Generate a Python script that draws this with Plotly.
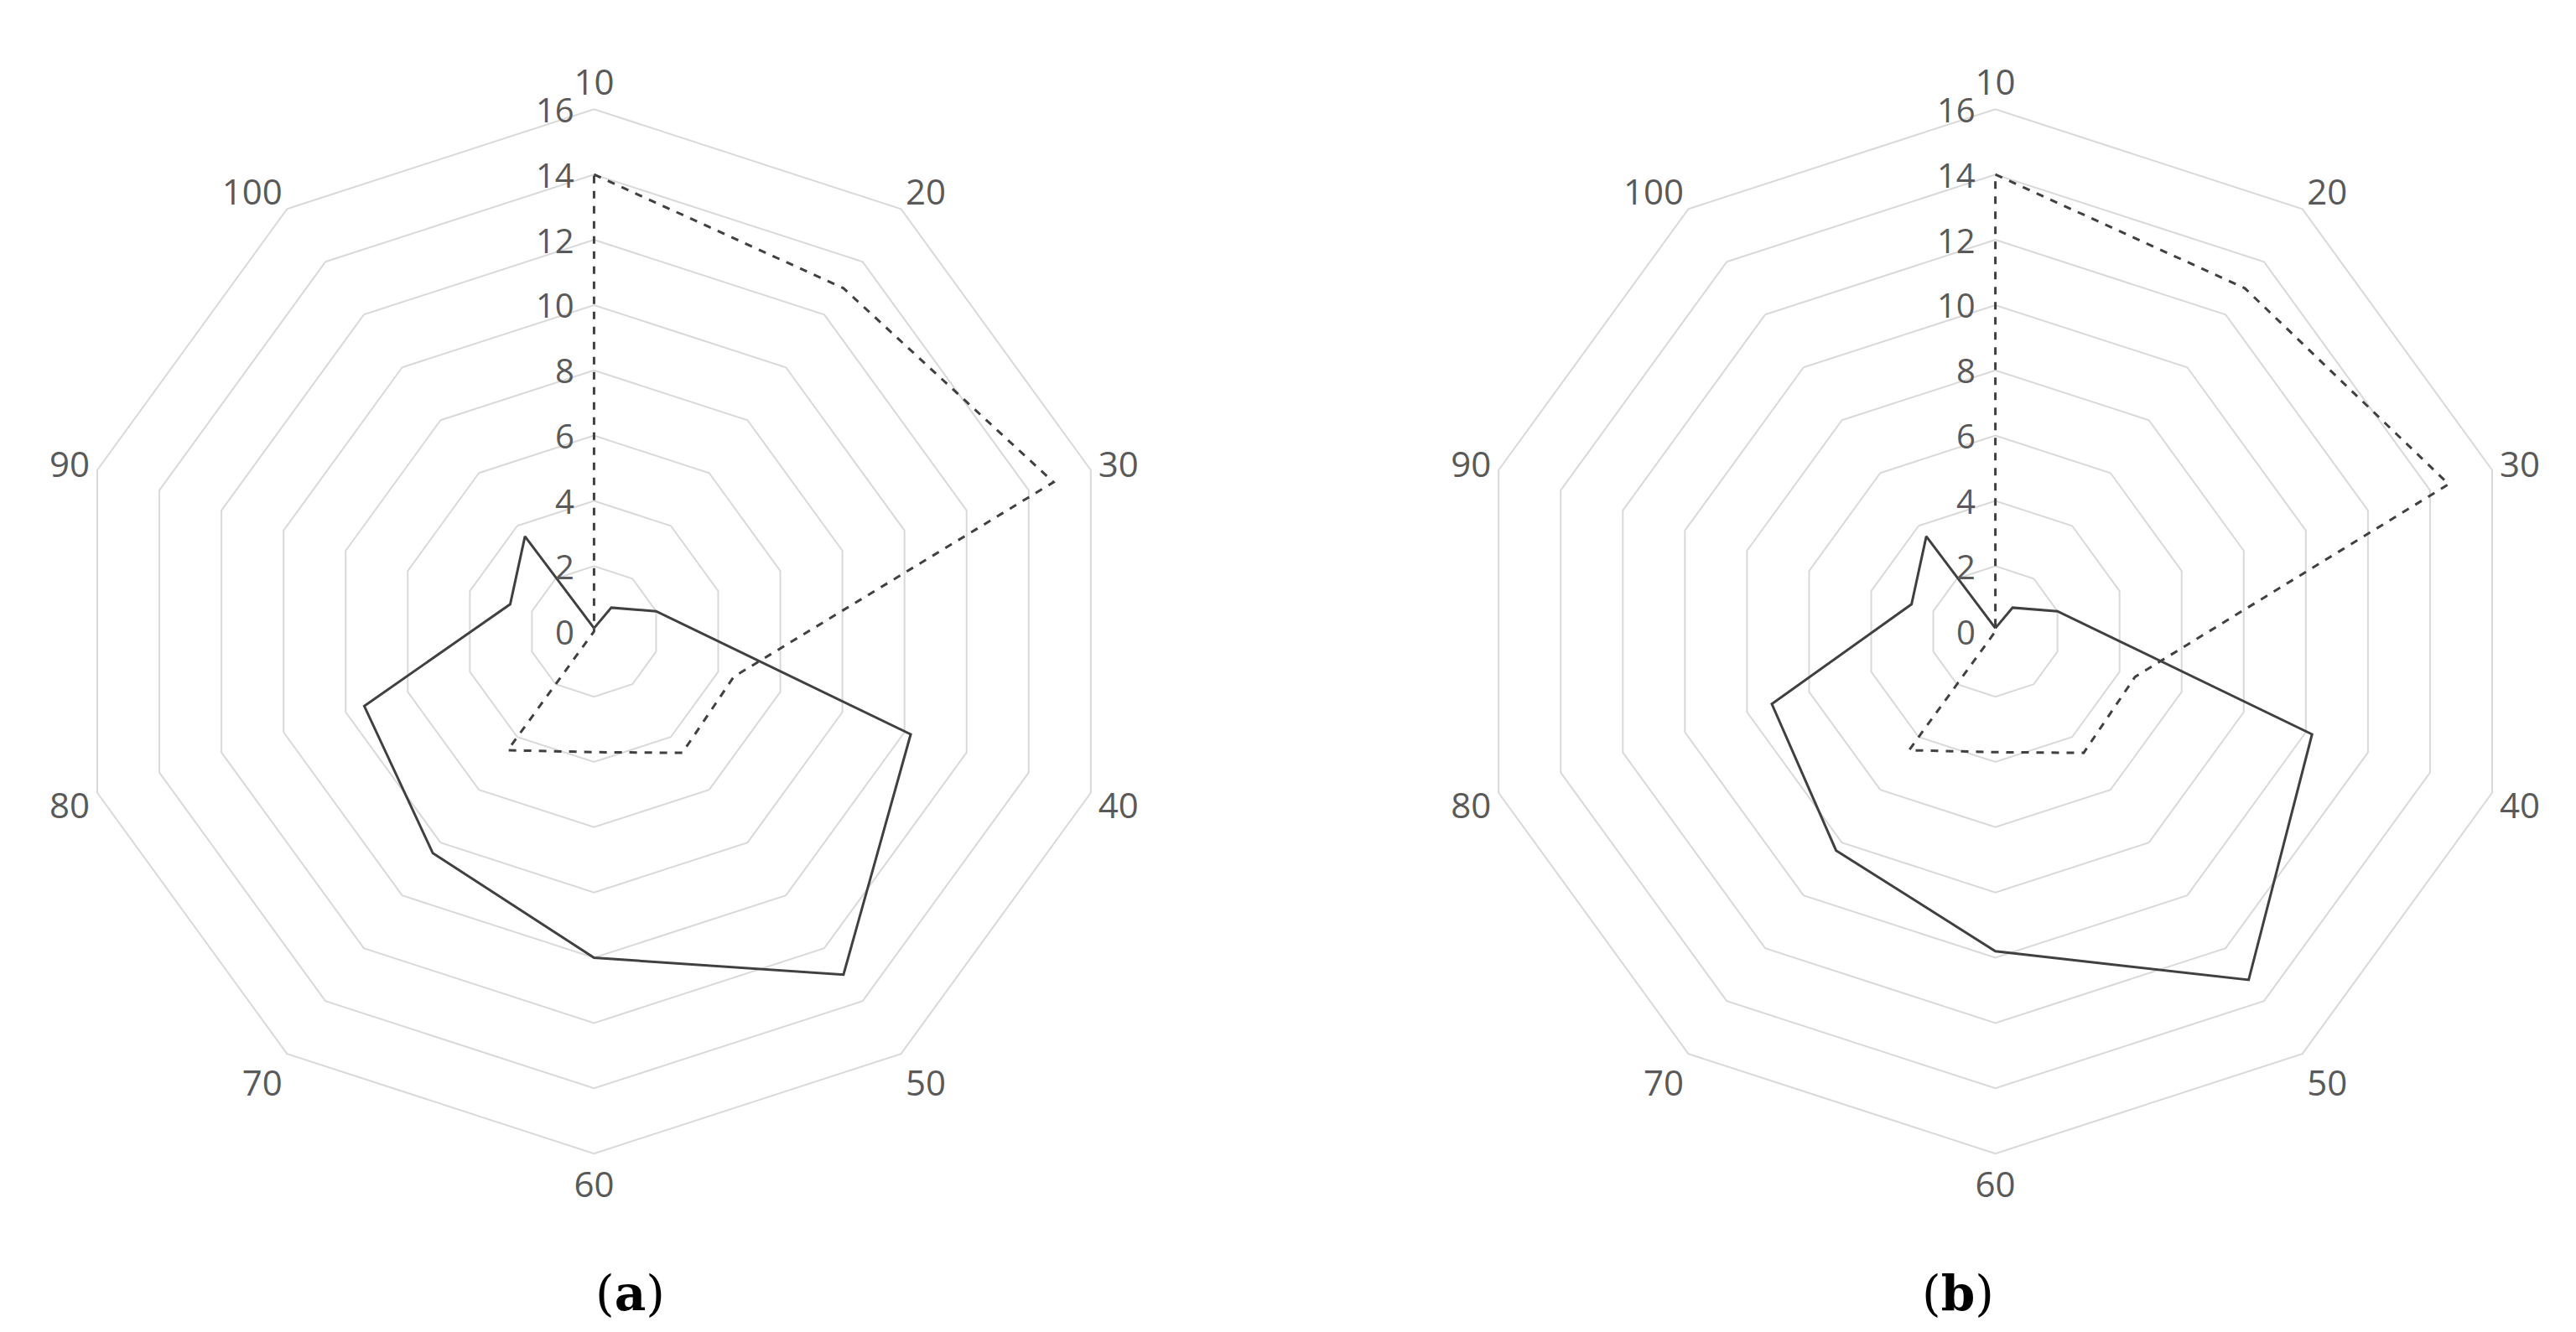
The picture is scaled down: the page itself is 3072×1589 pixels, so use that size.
import plotly.graph_objects as go

categories = ["10", "20", "30", "40", "50", "60", "70", "80", "90", "100"]
dashed_a = [14, 13, 14.8, 4.5, 4.6, 3.7, 4.5, 0, 0, 0]
solid_a = [0.1, 0.9, 2, 10.2, 13, 10, 8.4, 7.4, 2.7, 3.6]
dashed_b = [14, 13, 14.6, 4.5, 4.6, 3.7, 4.5, 0, 0, 0]
solid_b = [0.1, 0.9, 2, 10.2, 13.2, 9.8, 8.3, 7.2, 2.7, 3.6]
radial_ticks = [0, 2, 4, 6, 8, 10, 12, 14, 16]
panel_labels = ["(<b>a</b>)", "(<b>b</b>)"]

R_MAX = 16
domains_x = [[0.025, 0.431], [0.569, 0.975]]
domain_y = [0.139, 0.923]

fig = go.Figure()
for i, (d, s) in enumerate([(dashed_a, solid_a), (dashed_b, solid_b)]):
    sub = "polar" if i == 0 else "polar2"
    fig.add_trace(go.Scatterpolar(r=d + d[:1], theta=categories + categories[:1], mode="lines",
                                  line=dict(color="#404040", width=3, dash="dash"), subplot=sub, showlegend=False))
    fig.add_trace(go.Scatterpolar(r=s + s[:1], theta=categories + categories[:1], mode="lines",
                                  line=dict(color="#404040", width=3), subplot=sub, showlegend=False))

def polar(dom):
    return dict(
        domain=dict(x=dom, y=domain_y),
        gridshape="linear",
        bgcolor="white",
        angularaxis=dict(direction="clockwise", rotation=90, showgrid=False, showline=True,
                         linecolor="#d9d9d9", linewidth=2, ticks="",
                         tickfont=dict(size=42, color="#595959", family="Open Sans")),
        radialaxis=dict(range=[0, R_MAX], dtick=2, angle=90, showline=False, ticks="",
                        showticklabels=False, gridcolor="#d9d9d9", gridwidth=2),
    )

fig.update_layout(
    width=3072, height=1589, margin=dict(l=0, r=0, t=0, b=0),
    paper_bgcolor="white",
    polar=polar(domains_x[0]), polar2=polar(domains_x[1]),
)

cy = sum(domain_y) / 2
ry = (domain_y[1] - domain_y[0]) / 2
for dom, t in zip(domains_x, panel_labels):
    cx = sum(dom) / 2
    for v in radial_ticks:
        fig.add_annotation(x=cx - 0.007, y=cy + v / R_MAX * ry, xref="paper", yref="paper",
                           text=str(v), showarrow=False, xanchor="right", yanchor="middle",
                           font=dict(size=40, color="#595959", family="Open Sans"))
    fig.add_annotation(x=cx, y=0.034, xref="paper", yref="paper", text=t, showarrow=False,
                       yanchor="middle", font=dict(size=58, color="black", family="DejaVu Serif"))

fig.write_html("out.html")
